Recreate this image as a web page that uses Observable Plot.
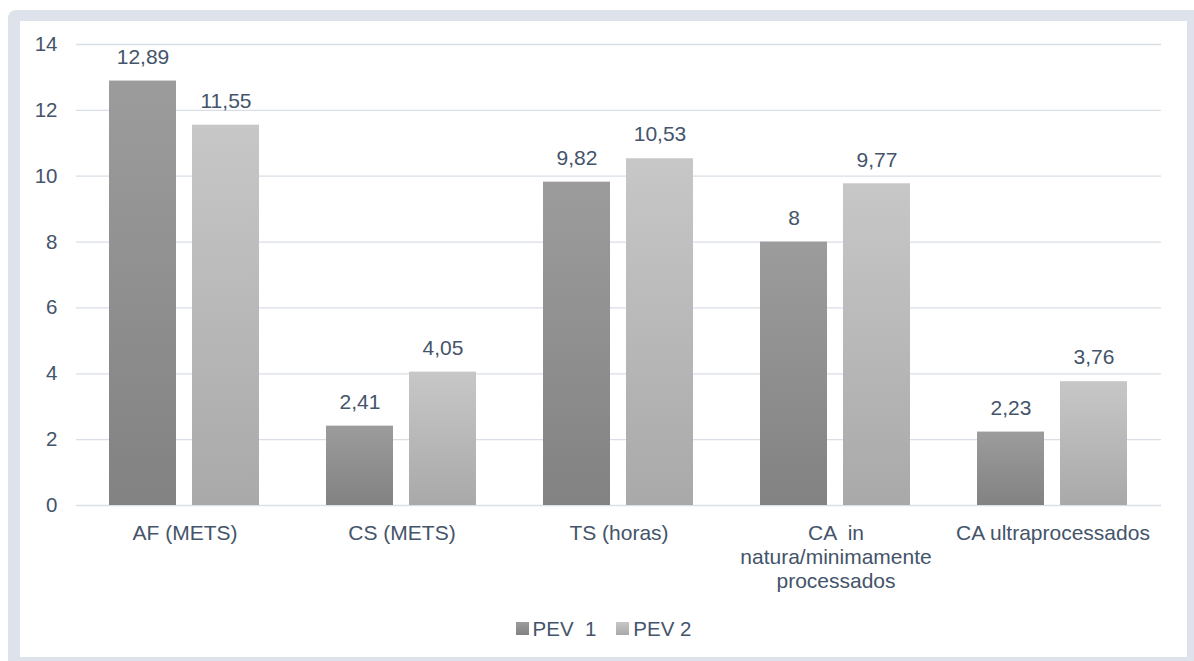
<!DOCTYPE html>
<html>
<head>
<meta charset="utf-8">
<script src="https://cdn.jsdelivr.net/npm/d3@7"></script>
<script src="https://cdn.jsdelivr.net/npm/@observablehq/plot@0.6"></script>
<style>
  html, body { margin: 0; padding: 0; background: #ffffff; }
  body { width: 1194px; height: 661px; position: relative; overflow: hidden; font-family: "Liberation Sans", Arial, sans-serif; }
  #frame { position: absolute; left: 8px; top: 10px; width: 1186px; height: 651px; background: #dee3eb; border-top-left-radius: 8px; }
  #inner { position: absolute; left: 12px; top: 11px; width: 1167px; height: 636px; background: #ffffff; }
  #chart svg { display: block; }
  svg text { white-space: pre; }
  #legend { margin-top: 15px; text-align: center; font-size: 20.5px; line-height: 24px; color: #44546a; white-space: pre; }
  .item { display: inline-flex; align-items: center; margin: 0 10px; }
  .sw { width: 13px; height: 13px; display: inline-block; margin-right: 4px; }
</style>
</head>
<body>
<div id="frame"><div id="inner"><div id="chart"></div><div id="legend"></div></div></div>
<script>
const categories = ["AF (METS)", "CS (METS)", "TS (horas)", "CA  in\nnatura/minimamente\nprocessados", "CA ultraprocessados"];
const series = ["PEV  1", "PEV 2"];
const pev1 = [12.89, 2.41, 9.82, 8, 2.23];
const pev2 = [11.55, 4.05, 10.53, 9.77, 3.76];
const yTicks = [0, 2, 4, 6, 8, 10, 12, 14];
const gradients = [["#9c9c9c", "#828282"], ["#c7c7c7", "#a9a9a9"]];

const data = [];
categories.forEach((c, i) => {
  data.push({category: c, series: series[0], value: pev1[i]});
  data.push({category: c, series: series[1], value: pev2[i]});
});

const fmt = v => String(v).replace(".", ",");
const textColor = "#44546a";

const defsMark = () => {
  const defs = d3.create("svg:defs");
  gradients.forEach((g, i) => {
    const lg = defs.append("linearGradient").attr("id", "grad" + i)
      .attr("x1", 0).attr("y1", 0).attr("x2", 0).attr("y2", 1);
    lg.append("stop").attr("offset", "0%").attr("stop-color", g[0]);
    lg.append("stop").attr("offset", "100%").attr("stop-color", g[1]);
  });
  return defs.node();
};

const chart = Plot.plot({
  width: 1167,
  height: 580,
  marginLeft: 54,
  marginRight: 24,
  marginTop: 23,
  marginBottom: 96,
  style: {fontFamily: "'Liberation Sans', Arial, sans-serif", fontSize: "21px", color: textColor, background: "white"},
  fx: {domain: categories, padding: 0, label: null},
  x: {domain: series, paddingInner: 0.19, paddingOuter: 0.393, axis: null},
  y: {domain: [0, 14], label: null},
  color: {domain: series, range: ["url(#grad0)", "url(#grad1)"]},
  marks: [
    defsMark,
    Plot.gridY(yTicks, {stroke: "#d9dee7", strokeOpacity: 1, strokeWidth: 1.3}),
    Plot.axisY(yTicks, {tickSize: 0, tickPadding: 19, label: null, fontSize: 20.5, fill: textColor, tickFormat: d => String(d)}),
    Plot.axisFx({anchor: "bottom", tickSize: 0, tickPadding: 17, label: null, fontSize: 21, fill: textColor, lineHeight: 1.15}),
    Plot.barY(data, {fx: "category", x: "series", y: "value", fill: "series"}),
    Plot.text(data, {fx: "category", x: "series", y: "value", text: d => fmt(d.value), dy: -24, lineAnchor: "middle", fontSize: 21, fill: textColor})
  ]
});
document.getElementById("chart").appendChild(chart);

const legend = document.getElementById("legend");
series.forEach((s, i) => {
  const item = document.createElement("span");
  item.className = "item";
  const sw = document.createElement("span");
  sw.className = "sw";
  sw.style.background = `linear-gradient(${gradients[i][0]}, ${gradients[i][1]})`;
  const t = document.createElement("span");
  t.textContent = s;
  item.appendChild(sw);
  item.appendChild(t);
  legend.appendChild(item);
});
</script>
</body>
</html>
